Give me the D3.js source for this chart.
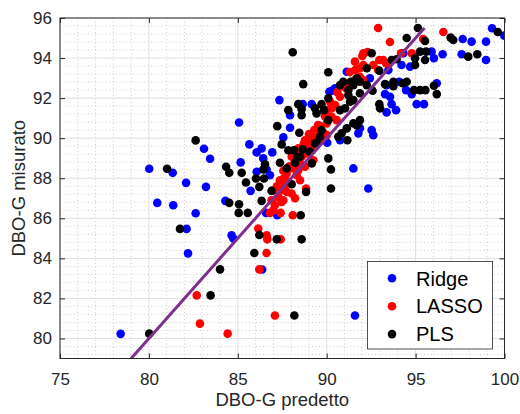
<!DOCTYPE html>
<html>
<head>
<meta charset="utf-8">
<script src="https://cdn.jsdelivr.net/npm/d3@7"></script>
<style>
  html, body { margin: 0; padding: 0; background: #fff; }
  svg { display: block; font-family: "Liberation Sans", Arial, Helvetica, sans-serif; }
</style>
</head>
<body>
<svg id="chart" width="520" height="414"></svg>
<script>
// ---- data ----
const seriesNames = ["Ridge", "LASSO", "PLS"];
const seriesColors = ["#0000ff", "#ff0000", "#000000"];
const xTicks = [75, 80, 85, 90, 95, 100];
const yTicks = [80, 82, 84, 86, 88, 90, 92, 94, 96];
const xDomain = [75, 100];
const yDomain = [79, 96];
const refLine = [[79, 79], [95.5, 95.5]];

const ridge = [
  [80.02,88.47],[81.34,88.27],[83.10,89.47],[83.44,88.97],[82.09,87.77],[83.21,87.57],
  [80.47,86.77],[81.37,86.65],[82.63,86.25],[82.12,85.47],[82.20,84.25],[84.30,86.87],
  [84.65,85.15],[84.75,84.99],[78.41,80.23],[85.07,90.78],[85.16,88.79],[85.65,89.69],
  [86.34,89.49],[86.06,89.29],[86.94,89.29],[86.06,88.32],[86.62,88.44],[86.81,88.15],
  [85.72,87.37],[86.59,86.27],[87.22,86.15],[86.37,83.44],[91.59,81.15],[86.43,88.99],
  [87.34,91.90],[87.94,91.15],[87.94,90.52],[88.65,91.70],[89.16,91.70],[89.62,90.60],
  [87.56,90.04],[90.15,92.32],[90.28,92.37],[90.47,92.49],[91.13,93.32],[92.43,92.99],
  [90.03,89.77],[90.75,89.90],[91.87,90.50],[91.78,90.24],[92.53,90.40],[92.62,90.15],
  [91.50,88.49],[92.34,87.49],[93.47,93.40],[93.28,92.20],[93.65,91.70],[93.37,91.29],
  [93.90,91.40],[94.08,92.82],[94.46,92.40],[94.78,92.20],[95.06,91.70],[95.47,91.70],
  [96.19,92.74],[94.31,94.24],[95.90,94.32],[96.03,93.99],[96.52,94.19],[97.59,94.19],
  [98.96,93.90],[97.65,94.95],[98.15,94.82],[98.96,94.82],[99.30,95.49],[99.99,95.12],
  [93.37,92.65],[93.56,92.07],[94.21,93.65],[94.69,93.57]
];

const lasso = [
  [82.69,82.15],[82.87,80.74],[84.43,80.24],[86.15,85.49],[86.21,83.45],[86.62,84.27],
  [86.62,85.15],[86.66,84.95],[87.41,84.95],[87.09,81.15],[86.81,86.27],[87.41,86.27],
  [88.09,86.15],[87.09,86.65],[87.47,86.82],[87.00,86.40],[87.56,86.90],[87.28,87.07],
  [87.47,87.40],[87.75,87.32],[88.03,87.24],[88.84,87.49],[87.37,87.90],[87.65,87.90],
  [87.82,87.82],[87.56,88.37],[88.12,88.49],[88.31,88.15],[88.50,87.90],[87.75,88.24],
  [88.40,88.40],[88.50,88.74],[88.78,88.57],[88.59,89.07],[88.87,89.24],[88.31,88.90],
  [88.03,89.07],[88.59,89.27],[88.91,89.65],[89.06,89.90],[89.25,89.99],[89.16,89.57],
  [89.25,88.90],[89.34,90.07],[89.62,89.90],[89.81,90.27],[90.00,90.15],[90.00,90.74],
  [90.00,91.40],[90.28,91.49],[90.47,91.65],[90.28,91.07],[90.56,90.90],[90.75,92.07],
  [91.09,92.49],[91.31,92.74],[91.59,92.90],[91.87,93.07],[92.06,92.90],[91.59,93.82],
  [91.87,93.49],[92.06,93.65],[92.06,94.24],[92.62,93.65],[92.90,93.40],[93.18,93.90],
  [93.34,93.74],[92.96,93.90],[92.89,95.50],[93.56,94.80],[94.18,94.24],[94.78,94.24],
  [96.56,95.30],[95.43,94.95],[88.22,87.00],[89.51,90.65],[87.65,87.65],[87.00,87.40],
  [88.78,89.90],[89.06,89.40],
  [86.90,86.90],[87.20,87.60],[87.60,88.00],[87.90,88.60],[88.20,88.90],[88.40,89.50],
  [88.70,89.70],[89.00,90.20],[89.30,90.40],[89.60,90.60],[89.90,91.10],[90.20,91.80],
  [90.60,92.30],[90.90,92.60],[91.30,93.30],[91.60,93.40],[92.30,94.30],[92.00,94.10]
];

const pls = [
  [82.63,89.89],[81.02,88.47],[84.34,88.57],[84.52,88.27],[84.52,86.77],[81.75,85.47],
  [85.07,86.70],[85.05,86.27],[85.56,86.27],[86.21,85.17],[85.93,84.27],[84.00,83.45],
  [83.47,82.15],[80.02,80.24],[87.19,84.95],[88.59,84.95],[88.54,86.15],[88.18,81.15],
  [85.22,88.27],[85.46,87.79],[86.21,87.57],[86.02,87.99],[86.47,87.99],[86.53,88.69],
  [86.43,88.44],[86.90,87.37],[86.34,86.87],[87.37,88.77],[87.75,88.49],[88.22,88.77],
  [88.03,87.70],[88.84,87.32],[87.22,90.60],[88.46,90.27],[89.62,90.07],[89.71,90.40],
  [87.47,89.69],[87.84,89.40],[88.16,89.40],[88.65,89.44],[88.35,89.04],[89.43,89.77],
  [88.09,94.29],[90.09,93.29],[88.68,92.70],[87.84,91.40],[88.40,91.70],[88.59,91.44],
  [88.59,91.15],[89.34,91.49],[89.71,91.70],[89.43,91.24],[89.85,91.40],[90.09,91.99],
  [90.75,91.40],[91.31,91.82],[91.03,91.49],[90.75,92.65],[90.93,92.82],[91.35,92.82],
  [91.69,92.99],[91.22,92.40],[91.87,92.24],[92.25,92.65],[92.58,92.37],[92.96,91.70],
  [93.00,91.49],[93.28,92.70],[93.75,92.82],[93.75,92.60],[94.50,92.82],[94.91,92.40],
  [95.25,92.40],[95.55,92.40],[96.03,92.62],[96.19,92.20],[92.25,93.49],[92.53,94.24],
  [92.96,93.37],[93.93,93.94],[93.65,93.90],[94.50,95.00],[95.13,95.50],[95.53,94.85],
  [95.25,94.32],[95.59,94.32],[94.97,93.99],[95.53,93.90],[94.97,93.65],[96.97,95.02],
  [97.12,94.90],[97.96,94.07],[98.47,94.19],[99.62,95.30],[91.87,90.90],[91.69,90.65],
  [91.13,90.49],[90.65,90.07],[90.84,90.24],[91.16,89.90],[89.34,89.74],[90.09,88.99],
  [90.24,88.44],[90.24,87.49],[89.16,88.74],[89.06,89.32],[88.50,89.07],[91.50,92.65],
  [91.87,92.82],[91.22,92.15],[91.50,91.90],[94.27,92.74],[90.09,90.90],[91.50,90.74]
];
const allSeries = [ridge, lasso, pls];

// ---- layout ----
const L = 60, R = 504.5, T = 18, B = 358.5;
const svg = d3.select("#chart");
const x = d3.scaleLinear().domain(xDomain).range([L, R]);
const y = d3.scaleLinear().domain(yDomain).range([B, T]);

// grid
const g = svg.append("g");
const xMinor = d3.range(xDomain[0], xDomain[1] + 0.001, 1).filter(v => !xTicks.includes(v));
const yMinor = d3.range(78.8, yDomain[1] + 0.001, 0.4).map(v => +v.toFixed(1))
  .filter(v => v > yDomain[0] && v < yDomain[1] && Math.abs(v / 2 - Math.round(v / 2)) > 1e-6);

g.selectAll(".xm").data(xMinor).join("line")
  .attr("x1", d => x(d)).attr("x2", d => x(d)).attr("y1", T).attr("y2", B)
  .attr("stroke", "#cfcfcf").attr("stroke-width", 1).attr("stroke-dasharray", "1,2.5");
g.selectAll(".ym").data(yMinor).join("line")
  .attr("x1", L).attr("x2", R).attr("y1", d => y(d)).attr("y2", d => y(d))
  .attr("stroke", "#cfcfcf").attr("stroke-width", 1).attr("stroke-dasharray", "1,2.5");
g.selectAll(".xg").data(xTicks).join("line")
  .attr("x1", d => x(d)).attr("x2", d => x(d)).attr("y1", T).attr("y2", B)
  .attr("stroke", "#e0e0e0").attr("stroke-width", 1);
g.selectAll(".yg").data(yTicks).join("line")
  .attr("x1", L).attr("x2", R).attr("y1", d => y(d)).attr("y2", d => y(d))
  .attr("stroke", "#e0e0e0").attr("stroke-width", 1);

// points
svg.append("clipPath").attr("id", "clip").append("rect")
  .attr("x", L).attr("y", T).attr("width", R - L).attr("height", B - T);
const pg = svg.append("g").attr("clip-path", "url(#clip)");
allSeries.forEach((s, i) => {
  pg.append("g").selectAll("circle").data(s).join("circle")
    .attr("cx", d => x(d[0])).attr("cy", d => y(d[1])).attr("r", 4.3)
    .attr("fill", seriesColors[i]);
});

// reference line
pg.append("path").datum(refLine)
  .attr("d", d3.line().x(d => x(d[0])).y(d => y(d[1])))
  .attr("fill", "none").attr("stroke", "#7e2f8e").attr("stroke-width", 3);

// axes
const axCol = "#262626";
const fmt = d3.format("d");
const ax = (sel) => {
  sel.select(".domain").remove();
  sel.selectAll(".tick line").attr("stroke", axCol);
  sel.selectAll(".tick text").attr("fill", axCol).attr("font-size", 17)
    .attr("font-family", '"Liberation Sans", Arial, sans-serif');
};
svg.append("g").attr("transform", `translate(0,${B})`)
  .call(d3.axisBottom(x).tickValues(xTicks).tickFormat(fmt).tickSize(-5).tickPadding(14)).call(ax);
svg.append("g").attr("transform", `translate(0,${T})`)
  .call(d3.axisTop(x).tickValues(xTicks).tickFormat("").tickSize(-5)).call(ax);
svg.append("g").attr("transform", `translate(${L},0)`)
  .call(d3.axisLeft(y).tickValues(yTicks).tickFormat(fmt).tickSize(-5).tickPadding(8)).call(ax);
svg.append("g").attr("transform", `translate(${R},0)`)
  .call(d3.axisRight(y).tickValues(yTicks).tickFormat("").tickSize(-5)).call(ax);
svg.append("rect").attr("x", L).attr("y", T).attr("width", R - L).attr("height", B - T)
  .attr("fill", "none").attr("stroke", axCol).attr("stroke-width", 1);

// axis labels
svg.append("text").attr("x", (L + R) / 2).attr("y", 406).attr("text-anchor", "middle")
  .attr("font-size", 18.5).attr("fill", axCol).text("DBO-G predetto");
svg.append("text").attr("transform", `translate(25,${(T + B) / 2}) rotate(-90)`)
  .attr("text-anchor", "middle").attr("font-size", 18.5).attr("fill", axCol).text("DBO-G misurato");

// legend
const lg = svg.append("g");
lg.append("rect").attr("x", 367.5).attr("y", 261.5).attr("width", 125).attr("height", 87.5)
  .attr("fill", "#fff").attr("stroke", axCol).attr("stroke-width", 0.8);
seriesNames.forEach((n, i) => {
  const cy = 278.3 + i * 27.9;
  lg.append("circle").attr("cx", 392).attr("cy", cy).attr("r", 4.3).attr("fill", seriesColors[i]);
  lg.append("text").attr("x", 416).attr("y", cy).attr("dy", "0.36em")
    .attr("font-size", 20).attr("fill", "#000").text(n);
});
</script>
</body>
</html>
